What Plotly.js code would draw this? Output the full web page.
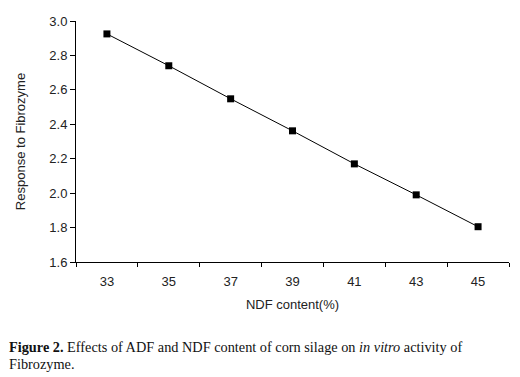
<!DOCTYPE html>
<html>
<head>
<meta charset="utf-8">
<script src="https://cdn.plot.ly/plotly-3.0.1.min.js"></script>
<style>html,body{margin:0;padding:0;background:#fff;}#chart{width:520px;height:377px;}</style>
</head>
<body>
<div id="chart"></div>
<script>
const ndf = [33, 35, 37, 39, 41, 43, 45];
const response = [2.925, 2.74, 2.548, 2.362, 2.17, 1.99, 1.805];
const xTickLabels = ["33", "35", "37", "39", "41", "43", "45"];
const yTickVals = [1.6, 1.8, 2.0, 2.2, 2.4, 2.6, 2.8, 3.0];

const trace = {
  x: ndf, y: response, type: 'scatter', mode: 'lines+markers',
  line: {color: '#000', width: 1},
  marker: {symbol: 'square', size: 7, color: '#000'},
  showlegend: false
};

const plotL = 76, plotR = 509;
const px = p => (p - plotL) / (plotR - plotL);
const plotTop = 21, plotBot = 262;
const py = p => (plotBot - p) / (plotBot - plotTop);

const layout = {
  width: 520, height: 377,
  margin: {l: 76, r: 11, t: 21, b: 115},
  paper_bgcolor: '#fff', plot_bgcolor: '#fff',
  font: {family: 'Liberation Sans, Arial, sans-serif', size: 13, color: '#222'},
  xaxis: {
    range: [32, 46], showgrid: false, zeroline: false,
    showline: true, linecolor: '#000', linewidth: 1,
    tickmode: 'array', tickvals: ndf, ticktext: xTickLabels,
    ticks: 'outside', ticklen: 7, tickcolor: 'rgba(0,0,0,0)',
    minor: {tick0: 32, dtick: 2, ticks: 'outside', ticklen: 4, tickcolor: '#000', showgrid: false},
    title: {text: 'NDF content(%)', font: {size: 13, color: '#222'}, standoff: 12}
  },
  yaxis: {
    range: [1.6, 3.0], showgrid: false, zeroline: false,
    showline: true, linecolor: '#000', linewidth: 1,
    tickmode: 'array', tickvals: yTickVals, ticktext: yTickVals.map(v => v.toFixed(1)),
    ticks: 'outside', ticklen: 5, tickcolor: '#000',
    title: {text: 'Response to Fibrozyme', font: {size: 13, color: '#222'}, standoff: 20}
  },
  annotations: [
    {xref: 'paper', yref: 'paper', x: px(7), y: py(347), xanchor: 'left', yanchor: 'middle',
     text: '<b>Figure 2.</b> Effects of ADF and NDF content of corn silage on <i>in vitro</i> activity of',
     showarrow: false, align: 'left', font: {family: 'Liberation Serif, Times New Roman, serif', size: 14.3, color: '#111'}},
    {xref: 'paper', yref: 'paper', x: px(7), y: py(364), xanchor: 'left', yanchor: 'middle',
     text: 'Fibrozyme.', showarrow: false, align: 'left',
     font: {family: 'Liberation Serif, Times New Roman, serif', size: 14.3, color: '#111'}}
  ]
};

Plotly.newPlot('chart', [trace], layout, {displayModeBar: false, staticPlot: true});
</script>
</body>
</html>
